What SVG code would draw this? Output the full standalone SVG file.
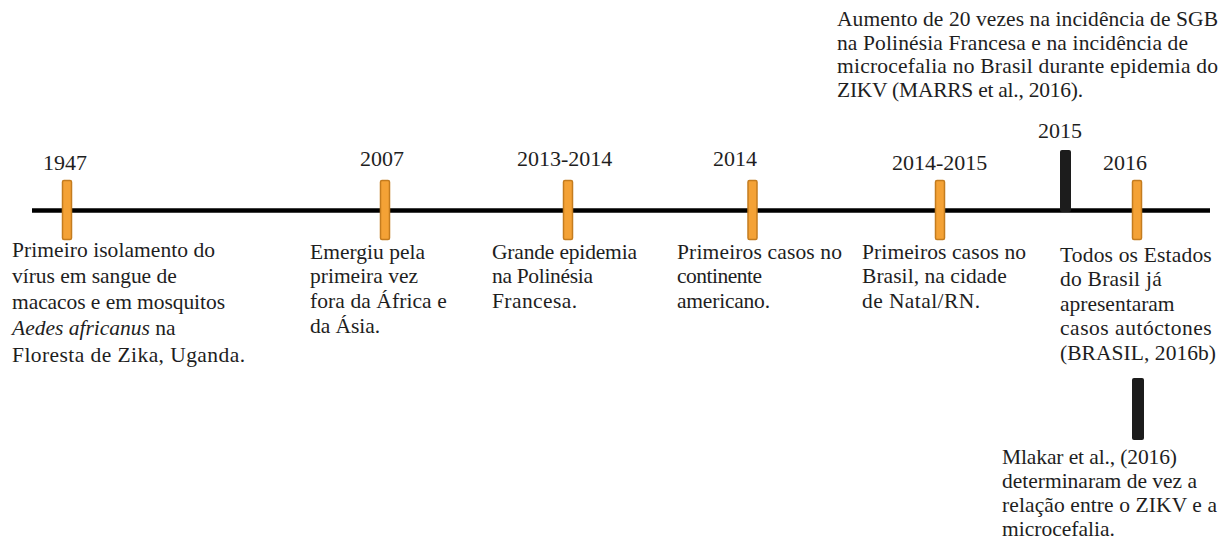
<svg xmlns="http://www.w3.org/2000/svg" width="1230" height="544" viewBox="0 0 1230 544">
<style>
text{font-family:"Liberation Serif","Times New Roman",serif;fill:#1e1e1e}
.yr{font-size:22px}
.b{font-size:21.5px}
.tick{fill:#f4a236;stroke:#c47c1f;stroke-width:1.5}
.blk{fill:#1c1c1c}
</style>
<rect width="1230" height="544" fill="#ffffff"/>
<g id="connectors">
<line x1="32" y1="210.5" x2="1210" y2="210.5" stroke="#000" stroke-width="4.5"/>
</g>
<g id="n1947">
<rect class="tick" x="62.5" y="180.5" width="9" height="59" rx="1.5"/>
<text class="yr" x="43" y="170">1947</text>
<text class="b"><tspan x="12" y="257" textLength="203">Primeiro isolamento  do</tspan><tspan x="12" y="283" textLength="164.7">vírus em sangue de</tspan><tspan x="12" y="309" textLength="213">macacos e em mosquitos</tspan><tspan x="12" y="335"><tspan font-style="italic">Aedes africanus</tspan> na</tspan><tspan x="12" y="361.5" textLength="233">Floresta de Zika, Uganda.</tspan></text>
</g>
<g id="n2007">
<rect class="tick" x="380.5" y="180.5" width="9" height="59" rx="1.5"/>
<text class="yr" x="360" y="166">2007</text>
<text class="b"><tspan x="310" y="258.5" textLength="115">Emergiu  pela</tspan><tspan x="310" y="283" textLength="108">primeira  vez</tspan><tspan x="310" y="307.5" textLength="136.7">fora da África e</tspan><tspan x="310" y="332.5" textLength="70">da Ásia.</tspan></text>
</g>
<g id="n2013">
<rect class="tick" x="563.5" y="180.5" width="9" height="59" rx="1.5"/>
<text class="yr" x="517" y="166">2013-2014</text>
<text class="b"><tspan x="492" y="258.5" textLength="145">Grande epidemia</tspan><tspan x="492" y="283" textLength="101">na Polinésia</tspan><tspan x="492" y="307.5" textLength="85">Francesa.</tspan></text>
</g>
<g id="n2014">
<rect class="tick" x="748" y="180.5" width="9" height="59" rx="1.5"/>
<text class="yr" x="713" y="166">2014</text>
<text class="b"><tspan x="677" y="258.5" textLength="165">Primeiros  casos no</tspan><tspan x="677" y="283" textLength="85">continente</tspan><tspan x="677" y="307.5" textLength="93">americano.</tspan></text>
</g>
<g id="n2014-2015">
<rect class="tick" x="935.5" y="180.5" width="9" height="59" rx="1.5"/>
<text class="yr" x="892" y="170">2014-2015</text>
<text class="b"><tspan x="862" y="258.5" textLength="164">Primeiros  casos no</tspan><tspan x="862" y="283" textLength="144.7">Brasil,  na cidade</tspan><tspan x="862" y="307.5" textLength="118">de Natal/RN.</tspan></text>
</g>
<g id="n2015">
<rect class="blk" x="1060" y="150" width="11" height="62" rx="2"/>
<text class="yr" x="1038" y="138">2015</text>
<text class="b"><tspan x="837" y="26" textLength="381">Aumento  de 20 vezes na incidência  de SGB</tspan><tspan x="837" y="49.5" textLength="351">na Polinésia  Francesa e na incidência  de</tspan><tspan x="837" y="73" textLength="381">microcefalia  no Brasil durante epidemia  do</tspan><tspan x="837" y="96.5" textLength="246">ZIKV  (MARRS  et al., 2016).</tspan></text>
</g>
<g id="n2016">
<rect class="tick" x="1132.5" y="180.5" width="9" height="59" rx="1.5"/>
<text class="yr" x="1103" y="170">2016</text>
<text class="b"><tspan x="1060" y="261.5" textLength="151.7">Todos os Estados</tspan><tspan x="1060" y="286" textLength="101.7">do Brasil  já</tspan><tspan x="1060" y="310.5">apresentaram</tspan><tspan x="1060" y="335" textLength="151.7">casos autóctones</tspan><tspan x="1060" y="359.5" textLength="156">(BRASIL,  2016b)</tspan></text>
</g>
<g id="nMlakar">
<rect class="blk" x="1132" y="378" width="12" height="62" rx="2"/>
<text class="b"><tspan x="1002" y="463.5" textLength="175">Mlakar  et al., (2016)</tspan><tspan x="1002" y="487.5" textLength="195">determinaram  de vez a</tspan><tspan x="1002" y="511.5" textLength="215">relação  entre o ZIKV  e a</tspan><tspan x="1002" y="535.5">microcefalia.</tspan></text>
</g>
</svg>
